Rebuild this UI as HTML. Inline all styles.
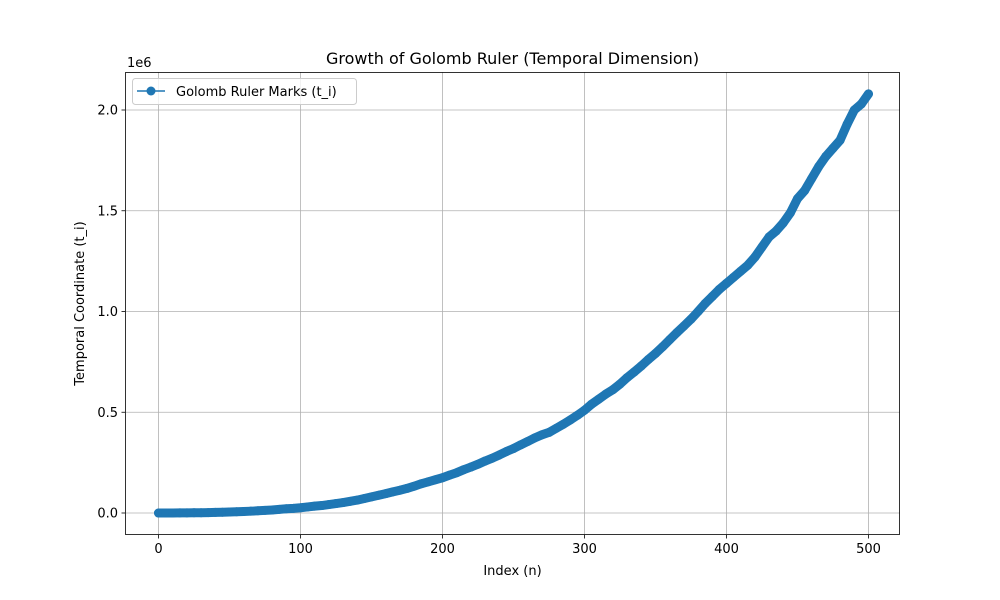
<!DOCTYPE html>
<html>
<head>
<meta charset="utf-8">
<style>
  html,body{margin:0;padding:0;background:#fff;}
  svg{display:block;font-family:"DejaVu Sans","Liberation Sans",sans-serif;}
</style>
</head>
<body>
<svg id="chart" width="1000" height="600" viewBox="0 0 1000 600" xmlns="http://www.w3.org/2000/svg">
  <rect x="0" y="0" width="1000" height="600" fill="#fff"/>
  <g id="grid"></g>
  <g id="series"></g>
  <rect x="125.5" y="72.5" width="774" height="462" fill="none" stroke="#000" stroke-width="0.8"/>
  <g id="xticks"></g>
  <g id="yticks"></g>
  <text x="512.5" y="64" font-size="16" text-anchor="middle">Growth of Golomb Ruler (Temporal Dimension)</text>
  <text x="512.5" y="575" font-size="13" text-anchor="middle">Index (n)</text>
  <text transform="translate(84,303.5) rotate(-90)" font-size="13" text-anchor="middle">Temporal Coordinate (t_i)</text>
  <text x="127" y="67" font-size="13">1e6</text>
  <g>
    <rect x="132.5" y="78.5" width="224" height="26" rx="3" fill="#fff" fill-opacity="0.8" stroke="#ccc"/>
    <line x1="137" y1="91" x2="165" y2="91" stroke="#1f77b4" stroke-width="1.5"/>
    <circle cx="151" cy="91" r="4.5" fill="#1f77b4"/>
    <text x="176" y="96" font-size="13">Golomb Ruler Marks (t_i)</text>
  </g>
</svg>
<script>
const indices = [0,5,10,15,20,25,30,35,40,45,50,55,60,65,70,75,80,85,90,95,100,105,110,115,120,125,130,135,140,145,150,155,160,165,170,175,180,185,190,195,200,205,210,215,220,225,230,235,240,245,250,255,260,265,270,275,280,285,290,295,300,305,310,315,320,325,330,335,340,345,350,355,360,365,370,375,380,385,390,395,400,405,410,415,420,425,430,435,440,445,450,455,460,465,470,475,480,485,490,495,500];
const valuesK = [0,0.1,0.2,0.5,0.8,1,1.5,2,3,4,5,6,7.5,9,11,13,15,18,21,23,26,30,34,37,42,47,52,58,64,72,80,88,96,105,113,122,133,145,155,165,175,188,200,215,228,242,258,272,288,305,320,338,355,373,388,400,420,440,462,485,510,540,565,590,612,640,672,700,730,762,792,825,860,895,928,962,1000,1040,1075,1110,1140,1170,1200,1230,1270,1320,1370,1400,1440,1490,1560,1600,1660,1720,1770,1810,1850,1930,2000,2030,2080];
const xTickValues = [0,100,200,300,400,500];
const yTickValues = [0,0.5,1.0,1.5,2.0];
const yTickLabels = ["0.0","0.5","1.0","1.5","2.0"];

const NS = "http://www.w3.org/2000/svg";
const xScale = v => 158.5 + v * 1.42;
const yScale = v => 513 - v * 201.5;

const grid = document.getElementById('grid');
const xt = document.getElementById('xticks');
const yt = document.getElementById('yticks');
function mk(tag, attrs, parent){ const e=document.createElementNS(NS,tag); for(const k in attrs) e.setAttribute(k,attrs[k]); parent.appendChild(e); return e; }

xTickValues.forEach(v=>{
  const x = xScale(v);
  const g = mk('line',{x1:x,x2:x,y1:72,y2:535,stroke:'#b0b0b0','stroke-width':0.8},grid);
  
  
  const t = mk('line',{x1:x,x2:x,y1:535,y2:538.5,stroke:'#000','stroke-width':0.8},xt);
  
  
  const l = mk('text',{x:x,y:553,'font-size':13,'text-anchor':'middle'},xt);
  l.textContent = String(v);
  
  
});
yTickValues.forEach((v,i)=>{
  const y = yScale(v);
  const g = mk('line',{x1:125,x2:900,y1:y,y2:y,stroke:'#b0b0b0','stroke-width':0.8},grid);
  
  
  const t = mk('line',{x1:121.5,x2:125,y1:y,y2:y,stroke:'#000','stroke-width':0.8},yt);
  
  
  const l = mk('text',{x:118,y:y+4.5,'font-size':13,'text-anchor':'end'},yt);
  l.textContent = yTickLabels[i];
  
  
});

const series = document.getElementById('series');
const pts = indices.map((n,i)=>xScale(n).toFixed(2)+','+yScale(valuesK[i]/1000).toFixed(2)).join(' ');
const line = mk('polyline',{points:pts,fill:'none',stroke:'#1f77b4','stroke-width':9,'stroke-linecap':'round','stroke-linejoin':'round'},series);


indices.forEach((n,i)=>{
  const c = mk('circle',{cx:xScale(n),cy:yScale(valuesK[i]/1000),r:4.5,fill:'#1f77b4'},series);
  
  
});
</script>
</body>
</html>
